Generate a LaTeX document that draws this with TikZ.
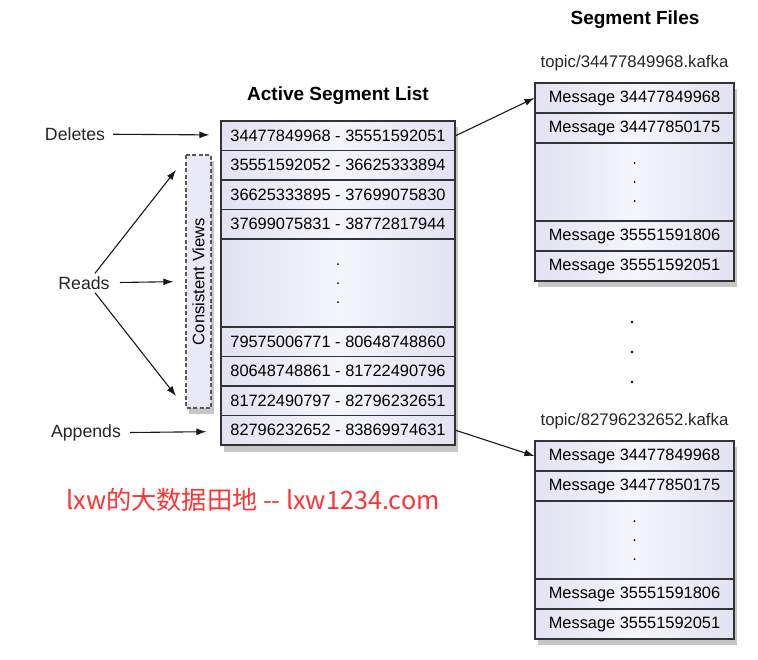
\documentclass[tikz,border=0pt]{standalone}
\usepackage{fontspec}
\setmainfont{Liberation Sans}
\newfontfamily\cjkfont{Noto Sans CJK SC}
\usepackage{tikz}
\usetikzlibrary{arrows.meta,shadows}
\definecolor{SegFill}{RGB}{226,226,242}
\definecolor{SegFillMid}{RGB}{245,245,252}
\definecolor{ViewFill}{RGB}{232,232,246}
\definecolor{BlogRed}{RGB}{255,51,51}

\begin{document}
\begin{tikzpicture}[x=1pt,y=-1pt,
  lbl/.style={text=black!85,inner sep=3pt,font=\fontsize{17.7}{20}\selectfont},
  ttl/.style={font=\bfseries\fontsize{19}{22}\selectfont},
  cell/.style n args={2}{draw=black!80,line width=1.2pt,left color=SegFill,right color=SegFill,middle color=SegFillMid,minimum width=#1,minimum height=#2,inner sep=0pt,font=\fontsize{16.4}{18}\selectfont},
  frame/.style n args={2}{fill=white,minimum width=#1,minimum height=#2,inner sep=0pt,drop shadow={shadow xshift=3pt,shadow yshift=-6pt,opacity=0.45}},
  arr/.style={-{Latex[length=10pt,width=7pt]},line width=1.1pt,black!90}]
\useasboundingbox (0,0) rectangle (758,659);
% active segment list
\node[ttl] (alist-title) at (338,96) {Active Segment List};
\node[frame={234}{325}] (alist) at (338,283.5) {};
\foreach \i/\txt in %
{0/{34477849968 - 35551592051},1/{35551592052 - 36625333894},2/{36625333895 - 37699075830},3/{37699075831 - 38772817944}} {
   \node[cell={234}{29.5}] (a\i) at (338,135.75+29.5*\i) {\txt};
}
\node[cell={234}{88}] (ad) at (338,283) {};
\foreach \d in {-19,0,19} \fill (ad.center) ++(0,\d) circle (1pt);
\foreach \i/\txt in %
{4/{79575006771 - 80648748860},5/{80648748861 - 81722490796},6/{81722490797 - 82796232651},7/{82796232652 - 83869974631}} {
   \node[cell={234}{29.5}] (a\i) at (338,341.75+29.5*\i-118) {\txt};
}
% segment files
\node[ttl] (files-title) at (635,20) {Segment Files};
\foreach \n/\ytop/\ttext in {f/83/34477849968,g/441/82796232652} {
   \node[lbl,font=\fontsize{16.8}{19}\selectfont] (\n topic) at (634.5,\ytop-20) {topic/\ttext.kafka};
   \node[frame={199}{198}] (\n box) at (634.5,\ytop+99) {};
   \node[cell={199}{30}] (\n0) at (634.5,\ytop+15) {Message 34477849968};
   \node[cell={199}{30}] (\n1) at (634.5,\ytop+45) {Message 34477850175};
   \node[cell={199}{78}] (\n d) at (634.5,\ytop+99) {};
   \node[cell={199}{30}] (\n2) at (634.5,\ytop+153) {Message 35551591806};
   \node[cell={199}{30}] (\n3) at (634.5,\ytop+183) {Message 35551592051};
   \foreach \d in {-19,0,19} \fill (\n d.center) ++(0,\d) circle (1pt);
}
\foreach \d in {322,352,382} \fill (632,\d) circle (1.3pt);
% consistent views
\node[draw=black!65,dash pattern=on 4pt off 2.5pt,line width=1.2pt,fill=ViewFill,minimum width=253,minimum height=25,inner sep=0pt,rotate=90,drop shadow={shadow xshift=3pt,shadow yshift=-6pt,opacity=0.45},font=\fontsize{16.6}{18}\selectfont] (cv) at (198.5,281.5) {Consistent Views};
% operations
\node[lbl] (del) at (75,134) {Deletes};
\node[lbl] (rd) at (84,283) {Reads};
\node[lbl] (app) at (86,433) {Appends};
\coordinate (rdup) at (176,170);
\coordinate (rddn) at (176,396);
\draw[arr,shorten <=5pt,shorten >=11pt] (del) -- (a0);
\draw[arr,shorten <=7pt,shorten >=12pt] (rd) -- (cv.north);
\draw[arr] ([xshift=11pt]rd.north) -- (rdup);
\draw[arr] ([xshift=11pt]rd.south) -- (rddn);
\draw[arr,shorten <=6pt,shorten >=14pt] (app) -- (a7);
\draw[arr] (a0.east) -- (f0.west);
\draw[arr] (a7.east) -- (g0.west);
% watermark
\node[text=BlogRed,font=\cjkfont\fontsize{25.2}{29}\selectfont] (blog) at (253,500) {lxw的大数据田地 -{}- lxw1234.com};
\end{tikzpicture}
\end{document}
